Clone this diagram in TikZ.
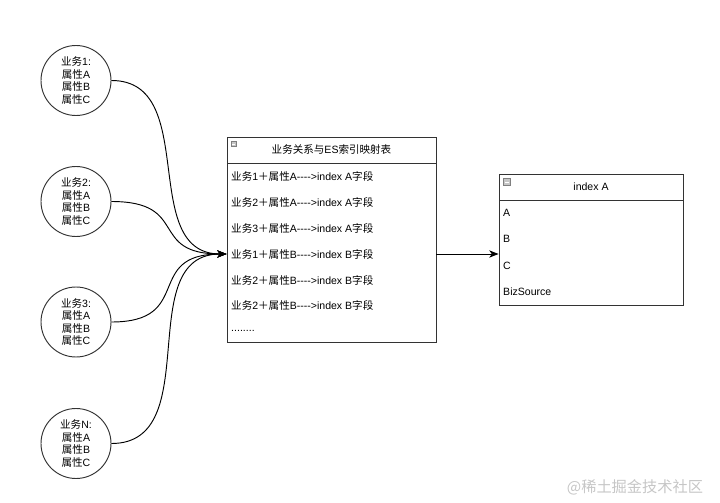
\documentclass[tikz,border=0pt]{standalone}
\usepackage{fontspec}
\setmainfont{Liberation Sans}
\newfontfamily\cjk{Noto Sans CJK SC}
\usetikzlibrary{arrows.meta,calc}

\newcommand{\maparrow}{-{}-{}-{}-{}>}

\begin{document}
\begin{tikzpicture}[
  x=0.03cm,
  y=-0.03cm,
  font=\fontsize{9}{10.8}\selectfont,
  line/.style={draw=black!80,line width=0.8pt},
  arrow/.style={draw=black,line width=0.8pt,-{Stealth[length=2.8mm,width=2.2mm,inset=0.8mm]}},
  bizcircle/.style={line,circle,minimum size=2.1cm,inner sep=0pt,align=center},
  tablebox/.style={line,minimum width=6.27cm,minimum height=6.15cm},
  indexbox/.style={line,minimum width=5.52cm,minimum height=3.93cm},
  headbox/.style={line,anchor=north,minimum height=0.78cm},
  rowtext/.style={anchor=west,inner sep=0pt},
  collapse/.style={draw=gray,fill=gray!45,inner sep=0pt},
  watermark/.style={font=\cjk\fontsize{13}{13}\selectfont,text=gray!45}
]
\useasboundingbox (0,0) rectangle (720,503);

% Business circles
\node[bizcircle] (biz1) at (76,80.5) {{\cjk 业务}1:\\{\cjk 属性}A\\{\cjk 属性}B\\{\cjk 属性}C};
\node[bizcircle] (biz2) at (76,201.5) {{\cjk 业务}2:\\{\cjk 属性}A\\{\cjk 属性}B\\{\cjk 属性}C};
\node[bizcircle] (biz3) at (76,322) {{\cjk 业务}3:\\{\cjk 属性}A\\{\cjk 属性}B\\{\cjk 属性}C};
\node[bizcircle] (bizN) at (76,443.5) {{\cjk 业务}N:\\{\cjk 属性}A\\{\cjk 属性}B\\{\cjk 属性}C};

% Mapping table
\node[tablebox] (map) at (331.5,239.5) {};
\node[headbox,minimum width=6.27cm] (maphead) at (map.north) {{\cjk 业务关系与}ES{\cjk 索引映射表}};
\node[collapse,minimum size=0.15cm] (mapicon) at (233.5,144) {};
\draw[white,line width=0.4pt] ($(mapicon.west)!0.2!(mapicon.east)$) -- ($(mapicon.east)!0.2!(mapicon.west)$);

\node[rowtext] (rowA1) at (231,176) {{\cjk 业务}1{\cjk ＋属性}A\maparrow index A{\cjk 字段}};
\node[rowtext] (rowA2) at (231,202) {{\cjk 业务}2{\cjk ＋属性}A\maparrow index A{\cjk 字段}};
\node[rowtext] (rowA3) at (231,228) {{\cjk 业务}3{\cjk ＋属性}A\maparrow index A{\cjk 字段}};
\node[rowtext] (rowB1) at (231,254) {{\cjk 业务}1{\cjk ＋属性}B\maparrow index B{\cjk 字段}};
\node[rowtext] (rowB2) at (231,280) {{\cjk 业务}2{\cjk ＋属性}B\maparrow index B{\cjk 字段}};
\node[rowtext] (rowB3) at (231,305) {{\cjk 业务}2{\cjk ＋属性}B\maparrow index B{\cjk 字段}};
\node[rowtext] (rowmore) at (231,331) {........};

% Index A
\node[indexbox] (idx) at (591,239.5) {};
\node[headbox,minimum width=5.52cm] (idxhead) at (idx.north) {index A};
\node[collapse,minimum size=0.2cm] (idxicon) at (507,182) {};
\draw[white,line width=0.5pt] ($(idxicon.west)!0.2!(idxicon.east)$) -- ($(idxicon.east)!0.2!(idxicon.west)$);

\node[rowtext] (fieldA) at (503,213) {A};
\node[rowtext] (fieldB) at (503,239) {B};
\node[rowtext] (fieldC) at (503,266) {C};
\node[rowtext] (fieldsrc) at (503,292) {BizSource};

% Connectors
\draw[arrow] (biz1.east) to[out=0,in=180,looseness=1.1] (map.west |- rowB1);
\draw[arrow] (biz2.east) to[out=0,in=180,looseness=1.6] (map.west |- rowB1);
\draw[arrow] (biz3.east) to[out=0,in=180,looseness=1.6] (map.west |- rowB1);
\draw[arrow] (bizN.east) to[out=0,in=180,looseness=1.1] (map.west |- rowB1);
\draw[arrow] (map.east |- rowB1) -- (idx.west |- rowB1);

% Watermark
\node[watermark] (wmark) at (635,487) {@稀土掘金技术社区};

\end{tikzpicture}
\end{document}
